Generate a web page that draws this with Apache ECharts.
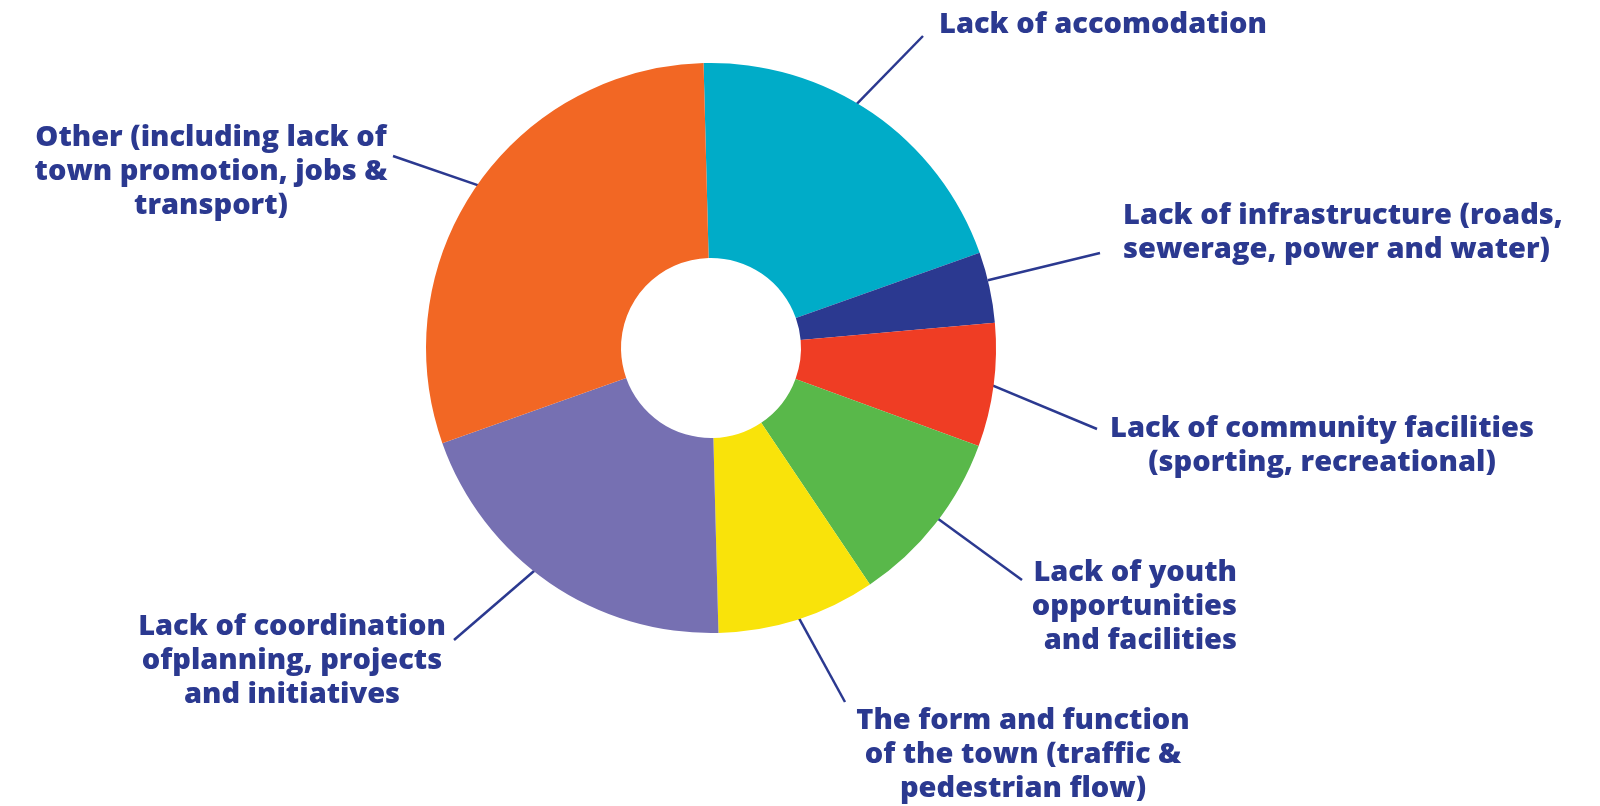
<!DOCTYPE html>
<html>
<head>
<meta charset="utf-8">
<script src="https://cdn.jsdelivr.net/npm/echarts@6/dist/echarts.min.js"></script>
<style>
  html, body { margin: 0; padding: 0; background: #ffffff; }
  #chart { width: 1600px; height: 806px; }
</style>
</head>
<body>
<div id="chart"></div>
<script>
// Issues raised, share of responses (%)
const categories = [
  'Lack of accomodation',
  'Lack of infrastructure (roads,\nsewerage, power and water)',
  'Lack of community facilities\n(sporting, recreational)',
  'Lack of youth\nopportunities\nand facilities',
  'The form and function\nof the town (traffic &\npedestrian flow)',
  'Lack of coordination\nofplanning, projects\nand initiatives',
  'Other (including lack of\ntown promotion, jobs &\ntransport)'
];
const shares = [20, 4, 7, 10, 9, 20, 30];
const sliceColors = ['#00acc8', '#2b3990', '#ef3d24', '#59b84a', '#f9e30a', '#7670b2', '#f26724'];

// Label anchors, text alignment, where each leader line leaves its slice
// (fraction of the slice's sweep, fraction of the outer radius) and where it ends (px)
const labelPlacement = [
  { x: 939,  y: 25,  align: 'left',   anchor: [0.44, 0.95], lineEnd: [923, 36] },
  { x: 1123, y: 233, align: 'left',   anchor: [0.40, 1.00], lineEnd: [1100, 253] },
  { x: 1322, y: 446, align: 'center', anchor: [0.46, 0.93], lineEnd: [1097, 429] },
  { x: 1237, y: 607, align: 'right',  anchor: [0.47, 0.91], lineEnd: [1022, 580] },
  { x: 1023, y: 755, align: 'center', anchor: [0.51, 0.94], lineEnd: [845, 702] },
  { x: 292,  y: 661, align: 'center', anchor: [0.55, 0.97], lineEnd: [454, 640] },
  { x: 211,  y: 172, align: 'center', anchor: [0.51, 0.96], lineEnd: [393, 156] }
];

const CX = 711, CY = 348, R_IN = 90, R_OUT = 285;
const START_ANGLE = 91.5;           // echarts convention: degrees ccw from 3 o'clock
const TEXT_COLOR = '#2b3990';

// Point inside slice i where its leader line starts
function leaderStart(i) {
  const total = shares.reduce((a, b) => a + b, 0);
  let before = 0;
  for (let k = 0; k < i; k++) before += shares[k];
  const a = labelPlacement[i].anchor;
  const fromTop = (90 - START_ANGLE) + (before + shares[i] * a[0]) / total * 360;
  const rad = fromTop * Math.PI / 180;
  const r = R_OUT * a[1];
  return [CX + r * Math.sin(rad), CY - r * Math.cos(rad)];
}

const chart = echarts.init(document.getElementById('chart'), null, { renderer: 'canvas' });

chart.setOption({
  backgroundColor: '#ffffff',
  animation: false,
  series: [{
    type: 'pie',
    center: [CX, CY],
    radius: [R_IN, R_OUT],
    startAngle: START_ANGLE,
    clockwise: true,
    avoidLabelOverlap: false,
    itemStyle: { borderWidth: 0 },
    emphasis: { disabled: true },
    label: {
      show: true,
      position: 'outside',
      color: TEXT_COLOR,
      fontFamily: 'Open Sans',
      fontWeight: 800,
      fontSize: 29,
      lineHeight: 34
    },
    labelLine: {
      show: true,
      lineStyle: { color: TEXT_COLOR, width: 2.5 }
    },
    labelLayout: function (params) {
      const p = labelPlacement[params.dataIndex];
      return {
        x: p.x,
        y: p.y,
        align: p.align,
        verticalAlign: 'middle',
        labelLinePoints: [leaderStart(params.dataIndex), p.lineEnd]
      };
    },
    data: categories.map((name, i) => ({
      name: name,
      value: shares[i],
      itemStyle: { color: sliceColors[i] },
      label: { align: labelPlacement[i].align }
    }))
  }]
});
</script>
</body>
</html>
